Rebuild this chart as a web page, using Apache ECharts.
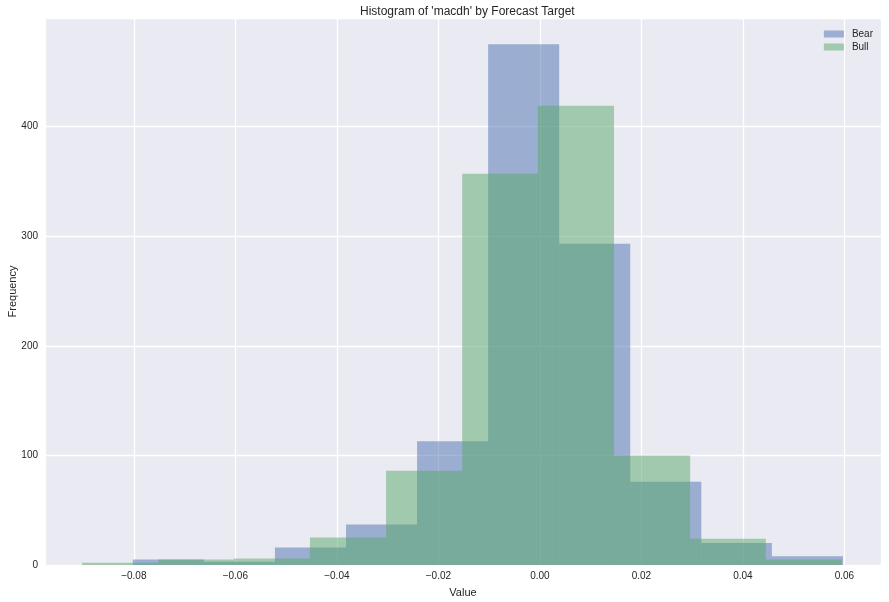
<!DOCTYPE html>
<html>
<head>
<meta charset="utf-8">
<style>
  html, body { margin: 0; padding: 0; background: #fff; }
  #chart { width: 889px; height: 602px; }
</style>
<script src="https://cdn.jsdelivr.net/npm/echarts@6/dist/echarts.min.js"></script>
</head>
<body>
<div id="chart"></div>
<script>
// bin edges (10 bins per group)
const bearEdges = [-0.0802, -0.0662, -0.0522, -0.0382, -0.0242, -0.0102, 0.0038, 0.0178, 0.0318, 0.0457, 0.0597]
const bullEdges = [-0.0902, -0.0752, -0.0603, -0.0453, -0.0303, -0.0153, -0.0004, 0.0146, 0.0296, 0.0445, 0.0595]

// counts per bin
const bearCounts = [5, 3, 16, 37, 113, 475, 293, 76, 20, 8]
const bullCounts = [2, 5, 6, 25, 86, 357, 419, 100, 24, 5]

const seriesNames = ['Bear', 'Bull']
const textColor = '#262626'
const font = 'Liberation Sans, Arial, sans-serif'

/** 把边界和计数拼成 [x0, x1, count] */
function toBins(edges, counts) {
  return counts.map((c, i) => [edges[i], edges[i + 1], c])
}

function renderBar(params, api) {
  const p0 = api.coord([api.value(0), api.value(2)])
  const p1 = api.coord([api.value(1), 0])
  return {
    type: 'rect',
    shape: { x: p0[0], y: p0[1], width: p1[0] - p0[0], height: p1[1] - p0[1] },
    style: { fill: api.visual('color') }
  }
}

const fmtTick = v => {
  const s = Math.abs(v) < 1e-9 ? '0.00' : Math.abs(v).toFixed(2)
  return v < -1e-9 ? '\u2212' + s : s
}

const myChart = echarts.init(document.getElementById('chart'))
myChart.setOption({
  animation: false,
  backgroundColor: '#ffffff',
  textStyle: { fontFamily: font, color: textColor },
  title: {
    text: "Histogram of 'macdh' by Forecast Target",
    left: 355,
    top: 1,
    textStyle: { fontSize: 12, fontWeight: 'normal', color: textColor, fontFamily: font }
  },
  legend: {
    data: seriesNames,
    orient: 'vertical',
    right: 11,
    top: 24,
    icon: 'rect',
    itemWidth: 20,
    itemHeight: 7,
    itemGap: 3,
    textStyle: { fontSize: 10, color: textColor, fontFamily: font, padding: [0, 0, 0, 3] }
  },
  grid: {
    left: 45, right: 8, top: 18, bottom: 37,
    containLabel: false,
    outerBoundsMode: 'none',
    show: true, backgroundColor: '#EAEAF2', borderWidth: 0
  },
  xAxis: {
    type: 'value',
    min: -0.0975,
    max: 0.0672,
    splitNumber: 8,
    name: 'Value',
    nameLocation: 'middle',
    nameGap: 22,
    nameMoveOverlap: false,
    nameTextStyle: { fontSize: 11, color: textColor },
    axisLine: { show: false },
    axisTick: { show: false },
    axisLabel: {
      fontSize: 10, color: textColor, margin: 6,
      showMinLabel: false, showMaxLabel: false,
      formatter: fmtTick
    },
    splitLine: { show: true, lineStyle: { color: '#ffffff', width: 1.3 } }
  },
  yAxis: {
    type: 'value',
    min: 0,
    max: 499,
    interval: 100,
    name: 'Frequency',
    nameLocation: 'middle',
    nameGap: 27,
    nameMoveOverlap: false,
    nameTextStyle: { fontSize: 11, color: textColor },
    axisLine: { show: false },
    axisTick: { show: false },
    axisLabel: { fontSize: 10, color: textColor, margin: 7, showMaxLabel: false },
    splitLine: { show: true, lineStyle: { color: '#ffffff', width: 1.3 } }
  },
  series: [
    {
      name: 'Bear',
      type: 'custom',
      renderItem: renderBar,
      itemStyle: { color: 'rgba(76,114,176,0.5)' },
      encode: { x: [0, 1], y: 2 },
      data: toBins(bearEdges, bearCounts)
    },
    {
      name: 'Bull',
      type: 'custom',
      renderItem: renderBar,
      itemStyle: { color: 'rgba(85,168,104,0.5)' },
      encode: { x: [0, 1], y: 2 },
      data: toBins(bullEdges, bullCounts)
    }
  ]
})
</script>
</body>
</html>
